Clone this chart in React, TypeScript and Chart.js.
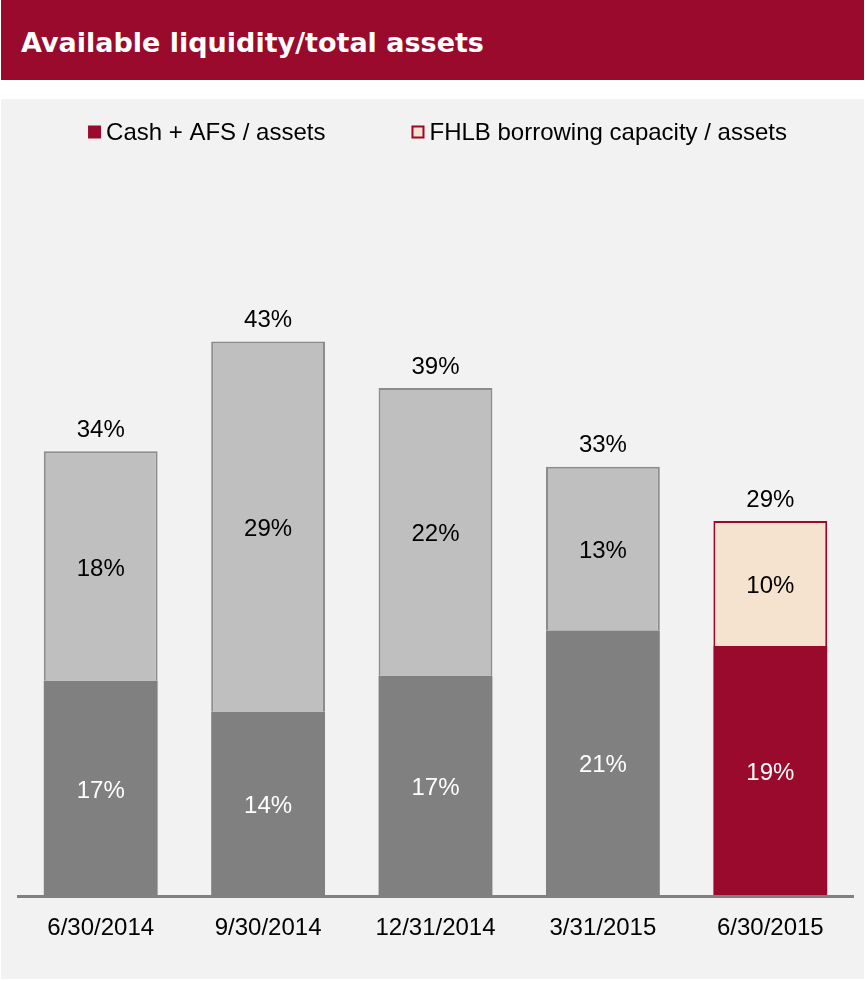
import React, { useEffect, useRef } from "react";
import { Chart, registerables } from "chart.js";

Chart.register(...registerables);

// Quarter-end dates on the category axis
const periods = ["6/30/2014", "9/30/2014", "12/31/2014", "3/31/2015", "6/30/2015"];
// Cash + AFS securities as a share of total assets (%)
const cashAfsPct = [16.6, 14.2, 17.0, 20.5, 19.3];
// FHLB borrowing capacity as a share of total assets (%)
const fhlbPct = [17.8, 28.7, 22.3, 12.7, 9.7];

const seriesNames = ["Cash + AFS / assets", "FHLB borrowing capacity / assets"];

const FONT = "'Liberation Sans', Arial, sans-serif";
const RED = "#990A2C";
const PEACH = "#F5E2CF";
const DARK_GRAY = "#808080";
const LIGHT_GRAY = "#BFBFBF";
const BORDER_GRAY = "#8C8C8C";

const lastIdx = periods.length - 1;

const pct = (v: number) => `${Math.round(v)}%`;

// Segment labels, stack totals, the base line and the legend row
const overlayPlugin = {
  id: "overlay",
  afterDatasetsDraw(chart: any) {
    const { ctx, chartArea } = chart;
    ctx.save();

    // base line under the bars
    ctx.fillStyle = DARK_GRAY;
    ctx.fillRect(chartArea.left, chartArea.bottom, chartArea.right - chartArea.left, 3);

    ctx.font = `24px ${FONT}`;
    ctx.textAlign = "center";
    ctx.textBaseline = "middle";

    chart.data.datasets.forEach((ds: any, di: number) => {
      const meta = chart.getDatasetMeta(di);
      meta.data.forEach((bar: any, i: number) => {
        const v = ds.data[i];
        ctx.fillStyle = di === 0 ? "#FFFFFF" : "#000000";
        ctx.fillText(pct(v), bar.x, (bar.y + bar.base) / 2 + 3);
      });
    });

    // totals above each stack
    const topMeta = chart.getDatasetMeta(chart.data.datasets.length - 1);
    topMeta.data.forEach((bar: any, i: number) => {
      const total = cashAfsPct[i] + fhlbPct[i];
      ctx.fillStyle = "#000000";
      ctx.fillText(pct(total), bar.x, bar.y - 21);
    });

    // legend
    const box = 13;
    const gap = 5;
    const itemGap = 86;
    const w1 = ctx.measureText(seriesNames[0]).width;
    const w2 = ctx.measureText(seriesNames[1]).width;
    const total = box + gap + w1 + itemGap + box + gap + w2;
    let x = chart.width / 2 + 5 - total / 2;
    const y = 34;
    ctx.textAlign = "left";

    ctx.fillStyle = RED;
    ctx.fillRect(x, y - box / 2 - 1, box, box);
    ctx.fillStyle = "#000000";
    ctx.fillText(seriesNames[0], x + box + gap, y);
    x += box + gap + w1 + itemGap;

    ctx.fillStyle = PEACH;
    ctx.fillRect(x, y - box / 2 - 1, box, box);
    ctx.strokeStyle = RED;
    ctx.lineWidth = 2;
    ctx.strokeRect(x + 1, y - box / 2, box - 2, box - 2);
    ctx.fillStyle = "#000000";
    ctx.fillText(seriesNames[1], x + box + gap, y);

    ctx.restore();
  },
};

function LiquidityChart() {
  const canvasRef = useRef<HTMLCanvasElement | null>(null);

  useEffect(() => {
    const canvas = canvasRef.current;
    if (!canvas) return;
    const chart = new Chart(canvas, {
      type: "bar",
      data: {
        labels: periods,
        datasets: [
          {
            label: seriesNames[0],
            data: cashAfsPct,
            backgroundColor: periods.map((_, i) => (i === lastIdx ? RED : DARK_GRAY)),
            borderWidth: 0,
          },
          {
            label: seriesNames[1],
            data: fhlbPct,
            backgroundColor: periods.map((_, i) => (i === lastIdx ? PEACH : LIGHT_GRAY)),
            borderColor: periods.map((_, i) => (i === lastIdx ? RED : BORDER_GRAY)),
            borderWidth: 2,
            borderSkipped: "bottom",
          },
        ],
      },
      options: {
        responsive: false,
        animation: false,
        devicePixelRatio: 1,
        layout: { padding: { left: 16, right: 10, top: 151, bottom: 0 } },
        plugins: {
          legend: { display: false },
          tooltip: { enabled: false },
          title: { display: false },
        },
        datasets: {
          bar: { categoryPercentage: 1, barPercentage: 0.68 },
        },
        scales: {
          x: {
            stacked: true,
            grid: { display: false, drawTicks: false },
            border: { display: false },
            ticks: {
              color: "#000000",
              font: { family: FONT, size: 24 },
              padding: 19,
              maxRotation: 0,
              autoSkip: false,
            },
            afterFit: (scale: any) => {
              scale.height = 84;
            },
          },
          y: {
            stacked: true,
            display: false,
            min: 0,
            max: 50,
          },
        },
      },
      plugins: [overlayPlugin],
    });
    return () => chart.destroy();
  }, []);

  return <canvas ref={canvasRef} width={863} height={880} style={{ display: "block" }} />;
}

export default function App() {
  useEffect(() => {
    document.body.style.margin = "0";
  }, []);

  return (
    <div
      style={{
        position: "absolute",
        left: 0,
        top: 0,
        width: 867,
        height: 981,
        background: "#FFFFFF",
        overflow: "hidden",
      }}
    >
      <div
        style={{
          position: "absolute",
          left: 1,
          top: 0,
          width: 863,
          height: 80,
          background: RED,
        }}
      >
        <div
          style={{
            position: "absolute",
            left: 20,
            top: 29,
            fontFamily: "'DejaVu Sans', sans-serif",
            fontWeight: "bold",
            fontSize: 27,
            lineHeight: "27px",
            color: "#FFFFFF",
            whiteSpace: "nowrap",
          }}
        >
          Available liquidity/total assets
        </div>
      </div>
      <div
        style={{
          position: "absolute",
          left: 1,
          top: 99,
          width: 863,
          height: 880,
          background: "#F2F2F2",
        }}
      >
        <LiquidityChart />
      </div>
    </div>
  );
}
